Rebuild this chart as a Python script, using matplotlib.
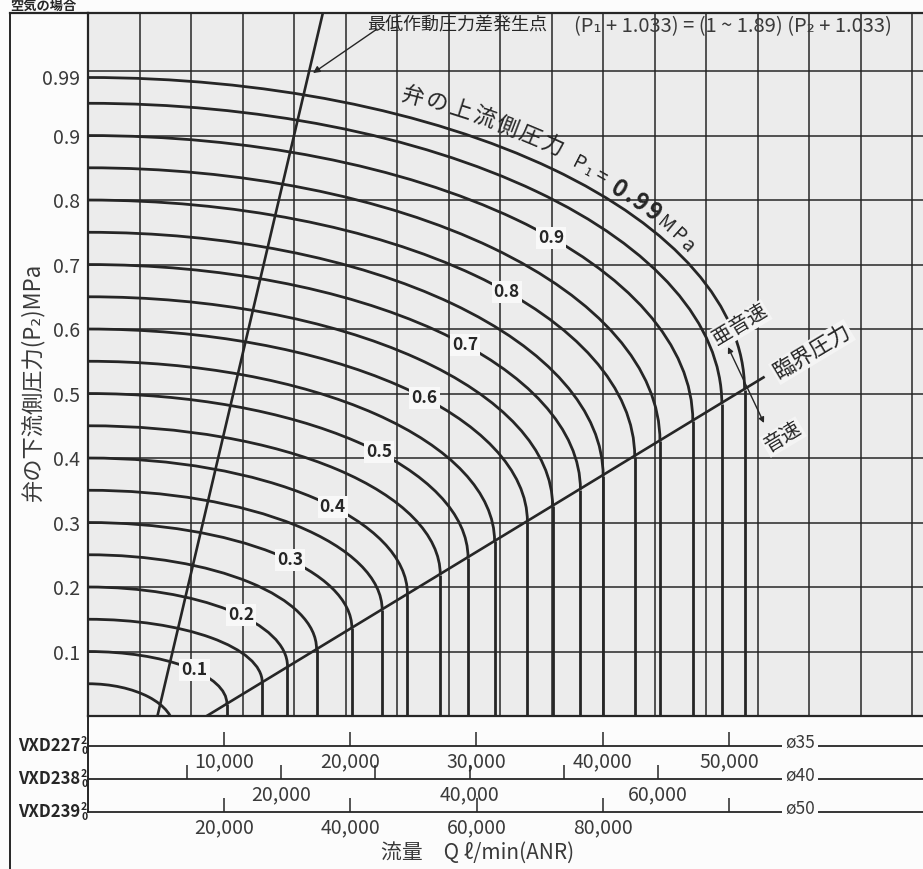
import numpy as np
import matplotlib.pyplot as plt
from matplotlib.patches import Arc
from matplotlib.lines import Line2D

plt.rcParams['font.family'] = ['Noto Sans CJK JP', 'DejaVu Sans']

ink = '#262626'
txt_col = '#3a3a3a'

# upstream pressure P1 (MPa) of each curve
p1 = [0.05, 0.10, 0.15, 0.20, 0.25, 0.30, 0.35, 0.40, 0.45, 0.50,
      0.55, 0.60, 0.65, 0.70, 0.75, 0.80, 0.85, 0.90, 0.95, 0.99]
# flow where each curve turns vertical (sonic), in VXD227 l/min
sonic_q = [6800, 11000, 13800, 15800, 18100, 20900, 23300, 25300, 27900, 30100,
           32200, 34800, 36800, 39000, 40800, 43300, 45300, 47900, 50200, 52000]
# P2 at that point (on the critical pressure line)
crit_p = [-0.02, 0.019, 0.052, 0.077, 0.104, 0.136, 0.164, 0.189, 0.219, 0.245,
          0.271, 0.301, 0.325, 0.351, 0.372, 0.402, 0.426, 0.457, 0.484, 0.506]
labelled = [0.1, 0.2, 0.3, 0.4, 0.5, 0.6, 0.7, 0.8, 0.9]

# critical pressure line and minimum operating pressure line
crit_line_q = [9400, 53500]
crit_line_p = [0.0, 0.525]
minop_q = [5500, 18600]
minop_p = [0.0, 1.09]

p2_ticks = [0.1, 0.2, 0.3, 0.4, 0.5, 0.6, 0.7, 0.8, 0.9, 0.99]
p2_labels = ['0.1', '0.2', '0.3', '0.4', '0.5', '0.6', '0.7', '0.8', '0.9', '0.99']

# flow scales below the chart
vxd227_ticks = [10000, 20000, 30000, 40000, 50000]
vxd227_labels = ['10,000', '20,000', '30,000', '40,000', '50,000']
vxd227_minor = []
vxd238_ticks = [20000, 40000, 60000]
vxd238_labels = ['20,000', '40,000', '60,000']
vxd238_minor = [10000, 30000, 50000]
vxd239_ticks = [20000, 40000, 60000, 80000]
vxd239_labels = ['20,000', '40,000', '60,000', '80,000']
vxd239_minor = [100000]

W, H = 923, 869
fig = plt.figure(figsize=(W / 100, H / 100), dpi=100, facecolor='#fcfcfc')


def fx(px):
    return px / W


def fy(py):
    return 1 - py / H


L, R, T, B = 88, 923, 13, 716
q_per_px = 79.2
ax = fig.add_axes([fx(L), fy(B), fx(R) - fx(L), fy(T) - fy(B)])
ax.set_facecolor('#ececec')
ax.set_xlim(0, (R - L) * q_per_px)
ax.set_ylim(0, 1.09)


def pq(px):
    return (px - L) * q_per_px


def pp(py):
    return (B - py) / 645


# grid
for gx in np.arange(1, 17) * 51.5 * q_per_px:
    ax.axvline(gx, color=ink, lw=1.1, zorder=1)
for gy in np.arange(1, 11) / 10:
    ax.axhline(gy, color=ink, lw=1.1, zorder=1)

# flow curves: quarter ellipse down to the critical line, then vertical
for p, qs, pc in zip(p1, sonic_q, crit_p):
    ax.add_patch(Arc((0, pc), 2 * qs, 2 * (p - pc), theta1=0, theta2=90,
                     lw=2.0, color=ink, zorder=3))
    if pc > 0:
        ax.plot([qs, qs], [pc, 0], lw=2.0, color=ink, zorder=3, solid_capstyle='butt')

ax.plot(crit_line_q, crit_line_p, lw=1.9, color=ink, zorder=3)
ax.plot(minop_q, minop_p, lw=1.9, color=ink, zorder=3)

# curve labels
t = np.deg2rad(40)
for p, qs, pc in zip(p1, sonic_q, crit_p):
    if round(p, 2) in labelled:
        ax.text(qs * np.cos(t), pc + (p - pc) * np.sin(t), f'{p:.1f}',
                ha='center', va='center', fontsize=12.5, fontweight='bold', color=ink, zorder=5,
                bbox=dict(boxstyle='square,pad=0.12', fc='#f8f8f8', ec='none'))

for side in ['left', 'top', 'bottom']:
    ax.spines[side].set_color(ink)
    ax.spines[side].set_linewidth(1.6)
ax.spines['right'].set_visible(False)
ax.set_xticks([])
ax.set_yticks(p2_ticks, p2_labels)
ax.tick_params(axis='y', length=0, pad=6, labelsize=14, labelcolor=txt_col)

# annotations
ax.text(pq(457), pp(25), '最低作動圧力差発生点', ha='center', va='center', fontsize=13, color=ink)
ax.text(pq(733), pp(27), '(P₁ + 1.033) = (1 ~ 1.89) (P₂ + 1.033)', ha='center', va='center',
        fontsize=14.5, color=txt_col)
ax.annotate('', xy=(pq(313), pp(73)), xytext=(pq(377), pp(29)),
            arrowprops=dict(arrowstyle='-|>', color=ink, lw=1.0, mutation_scale=10,
                            shrinkA=0, shrinkB=0))
ax.annotate('', xy=(pq(764), pp(423)), xytext=(pq(728), pp(347)),
            arrowprops=dict(arrowstyle='<|-|>', color=ink, lw=1.0, mutation_scale=8,
                            shrinkA=0, shrinkB=0))
ax.text(pq(740), pp(325), '亜音速', rotation=31, rotation_mode='anchor', ha='center', va='center',
        fontsize=14.5, color=ink, bbox=dict(boxstyle='square,pad=0.05', fc='#f4f4f4', ec='none'))
ax.text(pq(812), pp(352), '臨界圧力', rotation=31, rotation_mode='anchor', ha='center', va='center',
        fontsize=15.5, color=ink, bbox=dict(boxstyle='square,pad=0.05', fc='#f4f4f4', ec='none'))
ax.text(pq(783), pp(437), '音速', rotation=31, rotation_mode='anchor', ha='center', va='center',
        fontsize=14.5, color=ink, bbox=dict(boxstyle='square,pad=0.05', fc='#f4f4f4', ec='none'))

# title along the 0.99 MPa curve
pieces = [('弁', 24, 16, 'normal', 21), ('の', 24, 16, 'normal', 21), ('上', 24, 16, 'normal', 21),
          ('流', 24, 16, 'normal', 21), ('側', 24, 16, 'normal', 21), ('圧', 24, 16, 'normal', 21),
          ('力', 24, 16, 'normal', 21), (' ', 12, 12, 'normal', 14), ('P', 14, 14, 'normal', 16),
          ('₁', 9, 13, 'normal', 14), ('=', 16, 14, 'normal', 15), (' ', 6, 12, 'normal', 14),
          ('0', 16, 17, 'bold', 14), ('.', 8, 17, 'bold', 14), ('9', 16, 17, 'bold', 14),
          ('9', 16, 17, 'bold', 14), ('M', 18, 14, 'normal', 12), ('P', 14, 14, 'normal', 12),
          ('a', 13, 14, 'normal', 12)]
tt = np.linspace(np.deg2rad(62), 0, 3000)
pt, qt, ct = p1[-1], sonic_q[-1], crit_p[-1]
pts = ax.transData.transform(np.column_stack([qt * np.cos(tt), ct + (pt - ct) * np.sin(tt)]))
dd = np.diff(pts, axis=0)
ss = np.concatenate([[0], np.cumsum(np.hypot(dd[:, 0], dd[:, 1]))])
pos = 0
inv = fig.transFigure.inverted()
for ch, w, size, weight, off in pieces:
    i = min(np.searchsorted(ss, pos + w / 2), len(dd) - 1)
    tx, ty = dd[i] / np.hypot(dd[i, 0], dd[i, 1])
    x, y = pts[i] + off * np.array([-ty, tx])
    u, v = inv.transform((x, y))
    fig.text(u, v, ch, rotation=np.degrees(np.arctan2(ty, tx)), rotation_mode='anchor',
             ha='center', va='center', fontsize=size, fontweight=weight, color=ink)
    pos += w

# axis label and frame
fig.text(fx(33), fy(382), '弁の下流側圧力(P₂)MPa', rotation=90, ha='center', va='center',
         fontsize=16, color=txt_col)
fig.text(fx(10), fy(6), '空気の場合', ha='left', va='center', fontsize=9.5, fontweight='bold', color=ink)
fig.add_artist(Line2D([fx(10), fx(10)], [fy(13), fy(869)], color=ink, lw=1.4))
fig.add_artist(Line2D([fx(10), fx(L)], [fy(13), fy(13)], color=ink, lw=1.6))
fig.add_artist(Line2D([fx(L), fx(L)], [fy(B), fy(812)], color=ink, lw=1.4))

# flow scales
rows = [('VXD227', 746, (-770, 65370), vxd227_ticks, vxd227_labels, vxd227_minor, 'ø35'),
        ('VXD238', 779, (-510, 88130), vxd238_ticks, vxd238_labels, vxd238_minor, 'ø40'),
        ('VXD239', 812, (-1545, 130730), vxd239_ticks, vxd239_labels, vxd239_minor, 'ø50')]
for name, ly, xl, ticks, labels, minor, dia in rows:
    sax = fig.add_axes([fx(L), fy(ly), fx(R) - fx(L), 0.02])
    sax.set_xlim(xl)
    sax.set_ylim(0, 1)
    sax.patch.set_alpha(0)
    for side in ['left', 'right', 'top']:
        sax.spines[side].set_visible(False)
    sax.spines['bottom'].set_color(ink)
    sax.spines['bottom'].set_linewidth(1.3)
    sax.set_yticks([])
    sax.set_xticks(ticks, labels)
    sax.set_xticks(minor, minor=True)
    sax.tick_params(axis='x', which='both', direction='in', length=10, width=1.1, color=ink,
                    pad=4, labelsize=14, labelcolor=txt_col)
    fig.text(fx(80), fy(ly), name, ha='right', va='center', fontsize=12, fontweight='bold', color=ink)
    fig.text(fx(81), fy(ly - 5), '2', ha='left', va='center', fontsize=7.5, fontweight='bold', color=ink)
    fig.text(fx(81), fy(ly + 5), '0', ha='left', va='center', fontsize=7.5, fontweight='bold', color=ink)
    fig.text(fx(800), fy(ly - 3), dia, ha='center', va='center', fontsize=12.5, color=txt_col,
             bbox=dict(boxstyle='square,pad=0.2', fc='#fcfcfc', ec='none'))

fig.text(fx(478), fy(853), '流量　Q ℓ/min(ANR)', ha='center', va='center', fontsize=15, color=txt_col)

fig.savefig('out.png', dpi=100, facecolor=fig.get_facecolor())
